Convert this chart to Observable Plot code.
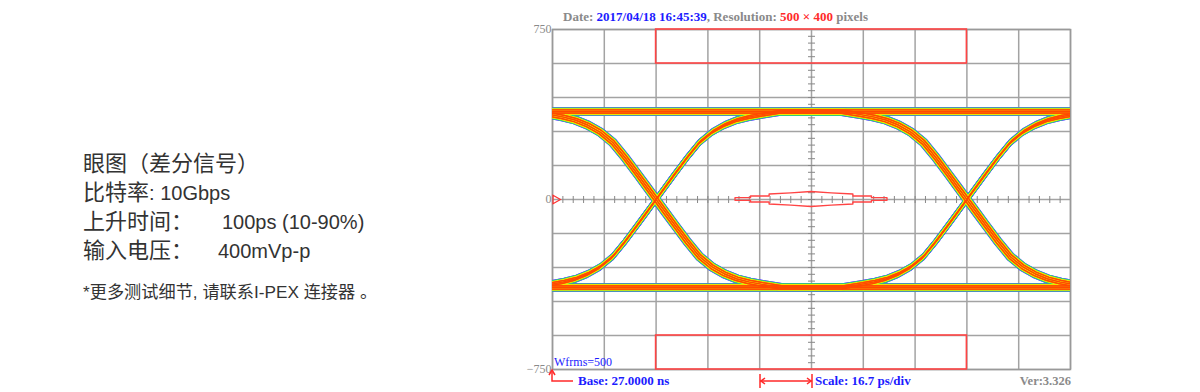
<!DOCTYPE html>
<html><head><meta charset="utf-8">
<script src="https://cdn.jsdelivr.net/npm/d3@7"></script>
<script src="https://cdn.jsdelivr.net/npm/@observablehq/plot@0.6"></script>
<style>
body{margin:0;background:#fff;}
#wrap{position:relative;width:1200px;height:392px;overflow:hidden;}
#chart{position:absolute;left:0;top:0;}
.ln{position:absolute;left:83px;height:29px;line-height:29px;font-family:"Liberation Sans","Noto Sans CJK SC",sans-serif;color:#333;font-size:20px;white-space:pre;}
.ln .cjk{font-family:"Noto Sans CJK SC",sans-serif;font-size:22px;line-height:29px;vertical-align:baseline;}
.ln .lab{display:inline-block;width:139px;}
.ln .lab2{display:inline-block;width:135px;}
.note{font-size:17.2px;}
.note .cjk{font-size:17.2px;}
.serif{position:absolute;font-family:"Liberation Serif","DejaVu Serif",serif;font-weight:bold;white-space:pre;line-height:14px;}
.g{color:#8a8a8a}.b{color:#1c1cff}.r{color:#ff2a2a}
</style></head><body>
<div id="wrap">
  <div id="chart"></div>
  <div class="ln" style="top:147px"><span class="cjk">眼图（差分信号）</span></div>
  <div class="ln" style="top:176px"><span class="cjk">比特率</span>: 10Gbps</div>
  <div class="ln" style="top:205px"><span class="lab"><span class="cjk">上升时间：</span></span>100ps (10-90%)</div>
  <div class="ln" style="top:234px"><span class="lab2"><span class="cjk">输入电压：</span></span>400mVp-p</div>
  <div class="ln note" style="top:276px">*<span class="cjk">更多测试细节</span>, <span class="cjk">请联系</span>I-PEX <span class="cjk">连接器</span> <span class="cjk">。</span></div>
  <div class="serif" style="left:563px;top:10px;font-size:13px;"><span class="g">Date: </span><span class="b">2017/04/18 16:45:39</span><span class="g">, Resolution: </span><span class="r">500 × 400</span><span class="g"> pixels</span></div>
  <div class="serif b" style="left:554px;top:355px;font-size:12px;font-weight:normal;">Wfrms=500</div>
  <div class="serif b" style="left:578px;top:374px;font-size:13px;">Base: 27.0000 ns</div>
  <div class="serif b" style="left:815px;top:374px;font-size:13px;">Scale: 16.7 ps/div</div>
  <div class="serif g" style="right:129px;top:374px;font-size:12.5px;">Ver:3.326</div>
  <svg style="position:absolute;left:0;top:0;pointer-events:none" width="1200" height="392">
    <g stroke="#ff2a2a" stroke-width="1.5" fill="none">
      <path d="M552,372 L552,381 L573,381"/>
      <path d="M549,375 L552,370 L555,375"/>
      <path d="M760,374 L760,388 M812,374 L812,388 M760,381 L812,381"/>
      <path d="M765,378 L761,381 L765,384 M807,378 L811,381 L807,384"/>
    </g>
  </svg>
</div>
<script>
// ---- data ----
const divPs = 16.7;                               // time per division
const gridTimesPs = [0, 16.7, 33.4, 50.1, 66.8, 83.5, 100.2, 116.9, 133.6, 150.3, 167];
const gridVoltsMv = [-750, -600, -450, -300, -150, 0, 150, 300, 450, 600, 750];
const yTickLabels = [-750, 0, 750];
const crossingsPs = [33.4, 133.6];                // eye crossing points
const levelHighMv = 388;
const levelLowMv = -388;
// falling edge profile around a crossing (time offset in ps, voltage in mV)
const edgeDtPs   = [-40, -34, -30, -26, -22, -18, -14, -10, -6, -3, 0, 3, 6, 10, 14, 18, 22, 26, 30, 34, 40];
const fallEdgeMv = [387, 374, 364, 350, 328, 297, 252, 185, 112, 56, 0, -56, -112, -185, -252, -297, -328, -350, -364, -374, -387];
const bitPatterns = ["000", "001", "010", "011", "100", "101", "110", "111"];
const bandOffsetsMv = [-7, 0, 7];
const jitterPs = [-0.4, 0, 0.4];
// mask regions
const maskRectTimesPs = [33.4, 133.6];
const maskRectsMv = [[600, 750], [-750, -600]];
const maskTimesPs = [59, 64, 64, 70, 70, 77, 83.5, 90, 97, 97, 103, 103, 108];
const maskHalfMv  = [6, 6, 13, 13, 22, 27, 33, 27, 22, 13, 13, 6, 6];

// ---- build tables ----
const level = b => (b === "1" ? levelHighMv : levelLowMv);
const traces = [];
bitPatterns.forEach(p => {
  bandOffsetsMv.forEach((off, k) => {
    const id = p + "-" + k;
    crossingsPs.forEach((c, j) => {
      const a = p[j], b = p[j + 1];
      edgeDtPs.forEach((dt, i) => {
        let v;
        if (a === b) v = level(a);
        else v = a === "1" ? fallEdgeMv[i] : -fallEdgeMv[i];
        traces.push({id, t: c + dt + jitterPs[k], v: v + off});
      });
    });
  });
});
const maskRows = maskTimesPs.map((t, i) => ({t, h: maskHalfMv[i]}));
const rects = maskRectsMv.map(([a, b]) => ({x1: maskRectTimesPs[0], x2: maskRectTimesPs[1], y1: a, y2: b}));
const minorX = d3.range(0, 167.01, divPs / 5);
const minorY = d3.range(-750, 750.01, 30);

const layers = [
  {w: 5.4, c: "#5a4cff"},
  {w: 4.4, c: "#2fdc6a"},
  {w: 3.0, c: "#f2e600"},
  {w: 1.2, c: "#ff4a00"}
];
const vTick = {draw(ctx) { ctx.moveTo(0, -3.5); ctx.lineTo(0, 3.5); }};
const hTick = {draw(ctx) { ctx.moveTo(-3.5, 0); ctx.lineTo(3.5, 0); }};
const gridColor = "#a3a3a3";

const chart = Plot.plot({
  width: 1200, height: 392,
  marginLeft: 552, marginRight: 130, marginTop: 29, marginBottom: 23,
  x: {domain: [0, 167], axis: null},
  y: {domain: [-750, 750], axis: null},
  style: {background: "transparent", overflow: "visible"},
  marks: [
    Plot.ruleX(gridTimesPs, {stroke: gridColor, strokeWidth: 1.5}),
    Plot.ruleY(gridVoltsMv, {stroke: gridColor, strokeWidth: 1.5}),
    Plot.dot(minorX, {x: d => d, y: 0, symbol: vTick, stroke: "#888", strokeWidth: 1}),
    Plot.dot(minorY, {x: 83.5, y: d => d, symbol: hTick, stroke: "#888", strokeWidth: 1}),
    Plot.frame({stroke: "#999", strokeWidth: 1.5}),
    ...layers.map(L => Plot.line(traces, {x: "t", y: "v", z: "id", stroke: L.c, strokeWidth: L.w, clip: true, curve: "linear"})),
    Plot.rect(rects, {x1: "x1", x2: "x2", y1: "y1", y2: "y2", fill: "none", stroke: "#ff4444", strokeWidth: 1.6}),
    Plot.areaY(maskRows, {x: "t", y1: d => -d.h, y2: "h", fill: "none", stroke: "#ff4444", strokeWidth: 1.4}),
    Plot.dot([0], {x: 0, y: 0, symbol: "triangle", rotate: 90, r: 3.2, stroke: "#ff3030", strokeWidth: 1.2, dx: 3}),
    Plot.axisY(yTickLabels, {tickSize: 0, tickPadding: 1, fontSize: 12, fontFamily: "Liberation Serif, serif", color: "#8a8a8a"})
  ]
});
document.getElementById("chart").append(chart);
</script>
</body></html>
